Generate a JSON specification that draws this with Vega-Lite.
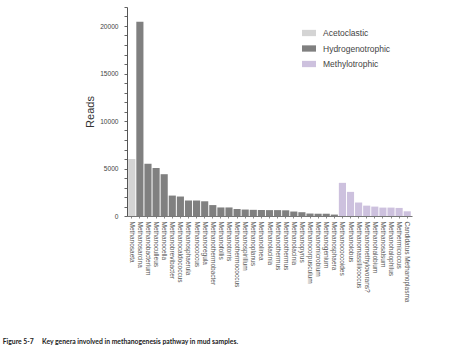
{
  "$schema": "https://vega.github.io/schema/vega-lite/v6.json",
  "autosize": {"type": "none"},
  "width": 285,
  "height": 209,
  "padding": {"left": 127, "top": 7, "right": 52, "bottom": 134},
  "background": "white",
  "title": {
    "text": "Figure 5-7\u00a0\u00a0\u00a0\u00a0\u00a0Key genera involved in methanogenesis pathway in mud samples.",
    "orient": "bottom",
    "anchor": "start",
    "frame": "bounds",
    "dx": -82,
    "offset": 37,
    "font": "Lato",
    "fontSize": 6.8,
    "fontWeight": "bold",
    "color": "#222222"
  },
  "data": {
    "values": [
      {"genus": "Methanosaeta", "reads": 6000, "pathway": "Acetoclastic"},
      {"genus": "Methanosarcina", "reads": 20450, "pathway": "Hydrogenotrophic"},
      {"genus": "Methanobacterium", "reads": 5500, "pathway": "Hydrogenotrophic"},
      {"genus": "Methanoculleus", "reads": 5050, "pathway": "Hydrogenotrophic"},
      {"genus": "Methanocella", "reads": 4400, "pathway": "Hydrogenotrophic"},
      {"genus": "Methanobrevibacter", "reads": 2150, "pathway": "Hydrogenotrophic"},
      {"genus": "Methanocaldococcus", "reads": 2050, "pathway": "Hydrogenotrophic"},
      {"genus": "Methanosphaerula", "reads": 1630, "pathway": "Hydrogenotrophic"},
      {"genus": "Methanococcus", "reads": 1630, "pathway": "Hydrogenotrophic"},
      {"genus": "Methanoregula", "reads": 1550, "pathway": "Hydrogenotrophic"},
      {"genus": "Methanothermobacter", "reads": 1150, "pathway": "Hydrogenotrophic"},
      {"genus": "Methanofollis", "reads": 900, "pathway": "Hydrogenotrophic"},
      {"genus": "Methanotorris", "reads": 900, "pathway": "Hydrogenotrophic"},
      {"genus": "Methanothermococcus", "reads": 740, "pathway": "Hydrogenotrophic"},
      {"genus": "Methanospirillum", "reads": 680, "pathway": "Hydrogenotrophic"},
      {"genus": "Methanoplanus", "reads": 650, "pathway": "Hydrogenotrophic"},
      {"genus": "Methanolinea", "reads": 630, "pathway": "Hydrogenotrophic"},
      {"genus": "Methanolacinia", "reads": 620, "pathway": "Hydrogenotrophic"},
      {"genus": "Methanothermus", "reads": 620, "pathway": "Hydrogenotrophic"},
      {"genus": "Methanothermus ", "reads": 600, "pathway": "Hydrogenotrophic"},
      {"genus": "Methanolacinia ", "reads": 470, "pathway": "Hydrogenotrophic"},
      {"genus": "Methanopyrus", "reads": 400, "pathway": "Hydrogenotrophic"},
      {"genus": "Methanocorpusculum", "reads": 260, "pathway": "Hydrogenotrophic"},
      {"genus": "Methanomicrobium", "reads": 240, "pathway": "Hydrogenotrophic"},
      {"genus": "Methanogenium", "reads": 240, "pathway": "Hydrogenotrophic"},
      {"genus": "Methanosphaera", "reads": 150, "pathway": "Hydrogenotrophic"},
      {"genus": "Methanococcoides", "reads": 3490, "pathway": "Methylotrophic"},
      {"genus": "Methanolobus", "reads": 2540, "pathway": "Methylotrophic"},
      {"genus": "Methanomassiliicoccus", "reads": 1420, "pathway": "Methylotrophic"},
      {"genus": "Methanomethylovorans?", "reads": 1090, "pathway": "Methylotrophic"},
      {"genus": "Methanohalobium", "reads": 990, "pathway": "Methylotrophic"},
      {"genus": "Methanosalsum", "reads": 885, "pathway": "Methylotrophic"},
      {"genus": "Methanohalophilus", "reads": 885, "pathway": "Methylotrophic"},
      {"genus": "Methermicoccus", "reads": 850, "pathway": "Methylotrophic"},
      {"genus": "Candidatus Methanoplasma", "reads": 495, "pathway": "Methylotrophic"}
    ]
  },
  "mark": {"type": "bar"},
  "encoding": {
    "x": {
      "field": "genus",
      "type": "nominal",
      "sort": null,
      "scale": {"paddingInner": 0.12, "paddingOuter": 0.15},
      "axis": {
        "title": null,
        "labelAngle": 90,
        "labelAlign": "left",
        "labelBaseline": "middle",
        "labelFont": "Liberation Sans",
        "labelFontSize": 6.5,
        "labelColor": "#555555",
        "labelPadding": 3,
        "tickSize": 2,
        "tickColor": "#888888",
        "domainColor": "#777777",
        "labelOverlap": false
      }
    },
    "y": {
      "field": "reads",
      "type": "quantitative",
      "scale": {"domain": [0, 22000], "nice": false},
      "axis": {
        "title": "Reads",
        "titleFont": "Liberation Sans",
        "titleFontSize": 11,
        "titleFontWeight": "normal",
        "titleColor": "#333333",
        "titlePadding": 4,
        "values": [0, 1000, 2000, 3000, 4000, 5000, 6000, 7000, 8000, 9000, 10000, 11000, 12000, 13000, 14000, 15000, 16000, 17000, 18000, 19000, 20000, 21000, 22000],
        "labelExpr": "datum.value % 5000 === 0 ? datum.value : ''",
        "labelFont": "Liberation Sans",
        "labelFontSize": 6.6,
        "labelColor": "#444444",
        "labelPadding": 6,
        "tickSize": 3,
        "tickColor": "#666666",
        "domainColor": "#555555",
        "grid": false
      }
    },
    "color": {
      "field": "pathway",
      "type": "nominal",
      "scale": {
        "domain": ["Acetoclastic", "Hydrogenotrophic", "Methylotrophic"],
        "range": ["#d4d4d4", "#808080", "#cdc1de"]
      },
      "legend": {
        "title": null,
        "orient": "none",
        "legendX": 175,
        "legendY": 19,
        "symbolType": "M-1,-0.45L1,-0.45L1,0.45L-1,0.45Z",
        "symbolSize": 196,
        "symbolStrokeWidth": 0,
        "labelFont": "Liberation Sans",
        "labelFontSize": 8.5,
        "labelColor": "#444444",
        "labelOffset": 7,
        "rowPadding": 3.5
      }
    }
  },
  "config": {
    "view": {"stroke": null}
  }
}
